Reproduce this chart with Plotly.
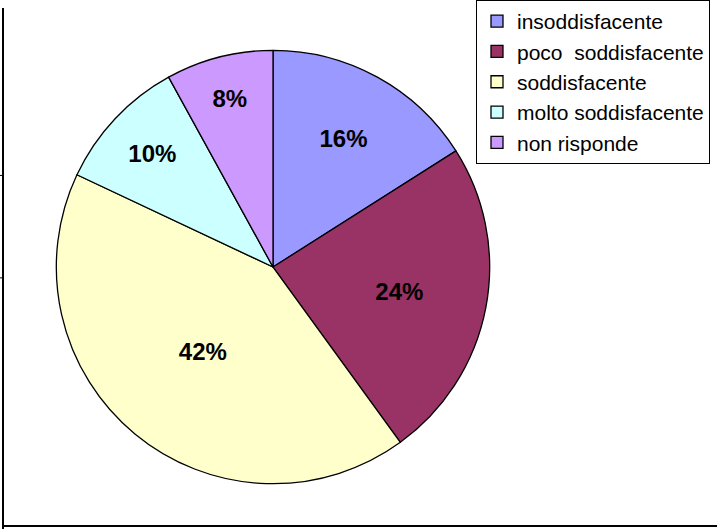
import plotly.graph_objects as go

labels = ["insoddisfacente", "poco  soddisfacente", "soddisfacente", "molto soddisfacente", "non risponde"]
values = [16, 24, 42, 10, 8]
colors = ["#9999FF", "#993366", "#FFFFCC", "#CCFFFF", "#CC99FF"]

W, H = 717, 529
cx, cy, r = 273, 263, 220

fig = go.Figure(go.Pie(
    labels=labels, values=values, sort=False, direction="clockwise", rotation=0,
    marker=dict(colors=colors, line=dict(color="black", width=1.3)),
    texttemplate="%{percent:.0%}", textposition="inside", insidetextorientation="horizontal",
    textfont=dict(family="Liberation Sans", size=24, color="black", weight="bold"),
    domain=dict(x=[(cx - r) / W, (cx + r) / W], y=[1 - (cy + r) / H, 1 - (cy - r) / H]),
    hoverinfo="label+percent",
))

fig.update_layout(
    width=W, height=H, margin=dict(l=0, r=0, t=0, b=0),
    paper_bgcolor="white", plot_bgcolor="white",
    showlegend=True,
    legend=dict(x=476 / W, y=1.016, xanchor="left", yanchor="top",
                bordercolor="black", borderwidth=1, bgcolor="white",
                font=dict(family="Liberation Sans", size=21, color="black"),
                itemwidth=30),
    shapes=[
        dict(type="line", xref="paper", yref="paper", x0=3 / W, x1=3 / W, y0=0, y1=1,
             line=dict(color="black", width=2)),
        dict(type="line", xref="paper", yref="paper", x0=3 / W, x1=1, y0=3 / H, y1=3 / H,
             line=dict(color="black", width=2)),
        dict(type="line", xref="paper", yref="paper", x0=0, x1=3 / W, y0=1 - 170 / H, y1=1 - 170 / H,
             line=dict(color="black", width=1)),
        dict(type="line", xref="paper", yref="paper", x0=0, x1=3 / W, y0=1 - 274 / H, y1=1 - 274 / H,
             line=dict(color="black", width=1)),
    ],
)

fig.write_html("out.html", config={"displayModeBar": False},
               post_script="document.body.style.margin='0';")
